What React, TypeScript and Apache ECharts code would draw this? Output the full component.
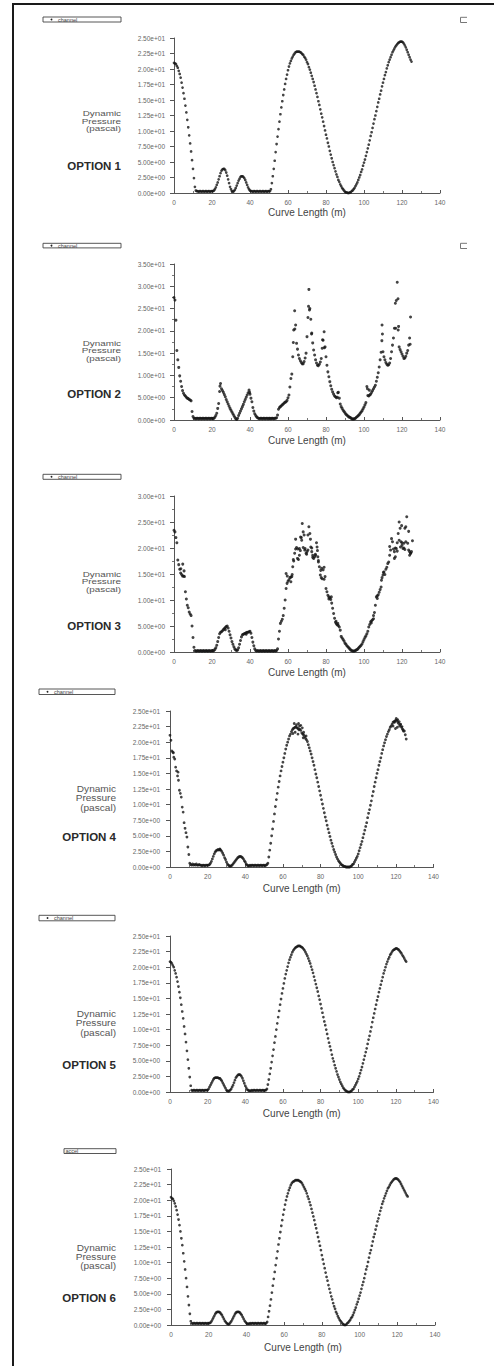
import React, { useEffect, useRef } from "react";
import * as echarts from "echarts";

// sampling step of the curve length (m) for the value arrays below
const X_STEP = 0.5;

const X_TICKS = { min: 0, max: 140, interval: 20 };

const option1 = [
  21.0, 20.9, 20.8, 20.5, 20.2, 19.7, 19.2, 18.6, 17.8, 17.0, 16.1, 15.2, 14.1, 13.0, 11.8, 10.6, 9.3, 8.0, 6.7, 5.3, 3.9, 2.4, 1.0,
  0.4, 0.3, 0.3, 0.2, 0.3, 0.3, 0.2, 0.3, 0.3, 0.2, 0.3, 0.3, 0.2, 0.3, 0.3, 0.2, 0.3, 0.3,
  0.3, 0.4, 0.6, 0.9, 1.3, 1.7, 2.2, 2.7, 3.2, 3.6, 3.8, 3.9, 3.9, 3.7, 3.3, 2.8, 2.2, 1.6, 1.0, 0.6, 0.3, 0.2,
  0.3, 0.5, 0.8, 1.2, 1.6, 2.0, 2.3, 2.6, 2.7, 2.7, 2.6, 2.4, 2.1, 1.7, 1.3, 0.9, 0.6, 0.4, 0.3,
  0.3, 0.2, 0.3, 0.3, 0.2, 0.3, 0.3, 0.2, 0.3, 0.3, 0.2, 0.3, 0.3, 0.2, 0.3, 0.3, 0.2, 0.3, 0.3, 0.3,
  0.6, 1.6, 2.7, 3.9, 5.2, 6.6, 7.9, 9.1, 10.3, 11.5, 12.7, 13.8, 14.8, 15.8, 16.7, 17.6, 18.4, 19.1, 19.8, 20.4, 20.9, 21.3, 21.7, 22.0, 22.3, 22.5, 22.7, 22.8, 22.8, 22.8,
  22.8, 22.7, 22.6, 22.4, 22.3, 22.0, 21.8, 21.5, 21.1, 20.8, 20.3, 19.9, 19.4, 18.9, 18.4, 17.9, 17.3, 16.7, 16.1, 15.5,
  14.8, 14.2, 13.5, 12.8, 12.2, 11.5, 10.8, 10.1, 9.4, 8.8, 8.1, 7.5, 6.8, 6.2, 5.6, 5.0, 4.5, 4.0, 3.5, 3.0,
  2.6, 2.1, 1.8, 1.4, 1.1, 0.8, 0.6, 0.4, 0.2, 0.1, 0.1, 0.0,
  0.0, 0.1, 0.1, 0.3, 0.4, 0.6, 0.8, 1.1, 1.4, 1.7, 2.1, 2.5, 2.9, 3.4, 3.8, 4.4, 4.9, 5.4, 6.0, 6.6,
  7.2, 7.8, 8.5, 9.2, 9.8, 10.5, 11.2, 11.9, 12.5, 13.2, 13.9, 14.6, 15.2, 15.9, 16.5, 17.2, 17.8, 18.4, 19.0, 19.5,
  20.1, 20.6, 21.1, 21.5, 21.9, 22.3, 22.7, 23.0, 23.3, 23.6, 23.8, 24.0, 24.2, 24.3, 24.4, 24.4, 24.4, 24.3, 24.1, 23.8,
  23.5, 23.1, 22.7, 22.3, 21.9, 21.5, 21.2,
];
const option1Extra: number[][] = [];

const option2 = [
  27.5, 26.9, 22.4, 15.6, 13.5, 11.8, 9.9, 8.7, 7.5, 6.6, 6.0, 5.6, 5.4, 5.1, 4.9, 4.8, 4.6, 4.5, 4.3, 1.9, 0.8,
  0.4, 0.4, 0.3, 0.4, 0.4, 0.3, 0.4, 0.4, 0.3, 0.4, 0.4, 0.3, 0.4, 0.4, 0.3, 0.4, 0.4, 0.3, 0.4, 0.4, 0.3, 0.4, 0.6,
  1.0, 1.5, 2.6, 3.7, 6.4, 8.2,
  7.0, 6.6, 6.2, 5.7, 5.2, 4.6, 4.1, 3.6, 3.1, 2.6, 2.2, 1.8, 1.4, 1.0, 0.6, 0.3, 0.1,
  0.4, 1.0, 1.5, 2.0, 2.5, 3.0, 3.5, 4.1, 4.6, 5.1, 5.6, 6.1, 6.7, 5.8,
  4.9, 4.1, 2.8, 2.0, 1.4, 1.0, 0.7, 0.5,
  0.4, 0.3, 0.4, 0.4, 0.3, 0.4, 0.4, 0.3, 0.4, 0.4, 0.3, 0.4, 0.4, 0.3, 0.4, 0.4, 0.3, 0.4, 0.4, 0.5,
  1.1, 2.4, 2.8, 3.0, 3.2, 3.4, 3.6, 3.8, 4.0, 4.1, 4.4, 5.0, 5.6, 7.4, 9.3, 10.3,
  14.2, 20.2, 24.5, 21.3, 17.2, 15.9, 14.6, 13.8,
  13.3, 12.9, 12.6, 12.6, 13.1, 13.9,
  15.0, 18.7, 23.0, 29.3, 25.0, 22.6, 19.5, 17.3,
  15.7, 14.6, 13.5, 12.8, 12.3, 12.2, 12.5, 13.0,
  13.8, 16.1, 17.9, 19.8, 16.4, 14.2,
  12.3, 10.8, 9.7, 8.6, 7.7, 6.9, 6.3, 5.8, 5.4, 5.2, 5.0, 5.1,
  6.2, 4.9, 3.6, 3.0, 2.6, 2.2, 1.9, 1.6, 1.3, 1.1, 0.9, 0.7, 0.6, 0.5, 0.3, 0.2, 0.2, 0.3, 0.4, 0.6, 0.8, 1.0, 1.2, 1.5, 1.8, 2.1, 2.5, 2.9,
  3.4, 3.9, 7.5,
  5.5, 5.4, 5.6, 5.8, 6.2, 6.6, 7.0, 7.4, 7.8, 8.7, 9.6, 10.6, 11.9,
  13.5, 15.2, 21.3, 15.3,
  14.2, 13.5, 12.9, 12.5, 12.3, 12.4, 12.8, 13.8, 15.3, 16.8, 18.4, 20.6,
  26.2, 26.8, 30.9, 20.2,
  16.4, 15.8, 15.3, 14.8, 14.3, 13.8, 13.9, 14.3, 15.0, 15.6, 16.8, 18.4, 23.1,
];
const option2Extra = [
  [24.2, 7.6], [39.8, 6.2], [62.8, 17.4], [63.6, 20.4], [70.8, 25.5], [71.3, 24.7], [72.4, 19.3],
  [78.2, 18.0], [79.1, 16.2], [86.2, 6.1], [101.8, 7.0], [102.8, 6.7], [109.4, 17.8], [109.7, 19.3],
  [116.7, 20.6], [117.9, 27.2], [118.2, 21.0], [124.3, 17.0],
];

const option3 = [
  23.4, 23.1, 22.0, 21.0, 17.7, 16.8, 15.9, 15.2, 14.9, 14.6, 14.6, 14.5, 11.6, 10.2, 9.0, 8.5, 7.7, 7.3, 7.0, 5.0, 2.8, 0.9,
  0.3, 0.2, 0.2, 0.3, 0.2, 0.2, 0.3, 0.2, 0.2, 0.3, 0.2, 0.2, 0.3, 0.2, 0.2, 0.3, 0.2, 0.2, 0.3, 0.2, 0.3, 0.5,
  0.8, 1.3, 2.0, 2.8, 3.5, 3.8, 3.9, 4.1, 4.3, 4.5, 4.7, 4.9, 5.0, 4.6, 4.0, 3.3, 2.7, 2.0, 1.5, 1.0, 0.6, 0.4, 0.3,
  0.4, 0.8, 1.5, 2.2, 2.9, 3.3, 3.4, 3.5, 3.6, 3.7, 3.8, 3.8, 3.9, 4.0, 3.6, 2.8, 1.9, 1.2, 0.6, 0.3,
  0.2, 0.3, 0.2, 0.2, 0.3, 0.2, 0.2, 0.3, 0.2, 0.2, 0.3, 0.2, 0.2, 0.3, 0.2, 0.2, 0.3, 0.2, 0.2, 0.3, 0.2, 0.3,
  0.6, 2.5, 4.0, 5.5, 5.9, 6.3, 7.0, 8.4, 10.0, 12.2, 13.2, 13.6, 13.9, 14.3, 14.4, 14.5, 16.4, 17.5,
  19.0, 19.8, 20.1, 18.0, 17.8, 18.6, 19.5, 22.0, 24.7, 23.1, 22.5, 19.9, 19.0, 19.3, 19.6, 24.1, 22.8, 20.2, 19.3, 18.6,
  18.0, 18.3, 18.6, 21.0, 19.5, 17.6, 16.4, 14.8, 14.3, 14.1, 15.8, 16.3, 14.5, 12.2,
  11.6, 10.9, 10.6, 10.4, 10.1, 9.4, 8.4, 7.4, 6.5, 5.7, 5.4, 5.2, 5.1, 4.8, 4.2, 3.0, 2.7, 2.4, 2.1, 1.7,
  1.5, 1.2, 1.0, 0.8, 0.6, 0.4, 0.3, 0.2, 0.2, 0.2,
  0.3, 0.4, 0.5, 0.7, 0.9, 1.1, 1.3, 1.6, 2.0, 2.4, 2.8, 3.1, 3.5, 4.0, 4.8, 5.3, 5.8, 6.0, 6.2, 7.0,
  7.6, 9.0, 10.6, 10.8, 11.0, 11.5, 12.0, 12.5, 14.3, 14.8,
  15.4, 14.9, 15.9, 16.3, 17.0, 17.3, 18.6, 19.6, 21.8, 21.2, 19.8, 19.3, 18.3, 19.9, 21.0, 22.8, 25.0, 23.8, 21.2, 20.5,
  19.9, 20.9, 23.8, 24.1, 26.0, 20.9, 19.6, 19.3, 19.0, 19.3, 21.4,
];
const option3Extra = [
  [3.6, 16.0], [4.6, 16.9], [5.3, 15.6], [27.0, 4.3], [38.0, 3.4], [59.0, 15.1], [59.6, 14.6], [61.5, 13.5],
  [62.2, 14.9], [62.8, 17.8], [64.0, 21.7], [65.2, 19.8], [66.0, 19.9], [66.6, 22.1], [67.2, 21.5], [68.0, 20.1],
  [68.8, 19.6], [69.8, 18.8], [70.5, 22.5], [71.8, 21.7], [72.5, 20.0], [73.0, 18.2], [74.4, 18.8], [75.3, 20.2],
  [75.7, 18.3], [76.0, 17.3], [77.2, 15.7], [77.7, 16.1], [79.0, 14.0], [81.5, 10.2], [82.8, 10.6], [85.3, 5.9],
  [86.2, 5.5], [103.8, 5.6], [105.0, 6.4], [107.0, 10.3], [109.2, 13.8], [110.2, 15.3], [113.5, 20.3], [116.0, 18.0],
  [116.5, 20.0], [117.5, 19.4], [118.5, 21.5], [119.2, 20.2], [119.8, 24.3], [120.0, 21.0], [121.0, 20.0],
  [121.5, 19.7], [122.0, 21.2], [123.5, 23.2], [124.0, 18.6], [124.6, 19.0],
];

const option4 = [
  21.1, 20.3, 18.6, 18.4, 17.6, 17.3, 16.0, 15.4, 14.6, 13.9, 12.3, 11.8, 11.2, 9.6, 8.8, 7.1, 6.2, 5.5, 4.8, 3.2, 2.0, 0.6,
  0.4, 0.3, 0.5, 0.3, 0.4, 0.3, 0.5, 0.3, 0.3, 0.4, 0.3, 0.3, 0.2, 0.3, 0.3, 0.2, 0.3, 0.3, 0.3, 0.3,
  0.4, 0.6, 0.9, 1.3, 1.7, 2.1, 2.4, 2.6, 2.7, 2.8, 2.7, 2.8, 2.7, 2.5, 2.2, 1.9, 1.5, 1.2, 0.8, 0.5, 0.3, 0.2, 0.1,
  0.2, 0.3, 0.5, 0.7, 0.9, 1.1, 1.3, 1.5, 1.6, 1.7, 1.7, 1.6, 1.5, 1.3, 1.0, 0.8, 0.5, 0.3, 0.2, 0.2,
  0.3, 0.2, 0.3, 0.3, 0.2, 0.3, 0.3, 0.2, 0.3, 0.3, 0.2, 0.3, 0.3, 0.2, 0.3, 0.3, 0.2, 0.3, 0.4,
  0.6, 1.6, 2.7, 3.8, 5.0, 6.1, 7.3, 8.5, 9.7, 10.8, 11.8, 12.8, 13.7, 14.6, 15.4, 16.1, 16.8, 17.5, 18.2, 18.9,
  19.5, 20.0, 20.5, 21.0, 21.3, 21.7, 22.0, 22.2, 22.3, 22.4,
  22.5, 22.3, 22.2, 22.0, 22.1, 21.9, 21.5, 21.3, 21.2, 20.9, 20.6, 20.4, 20.1, 19.6, 19.1, 18.6, 18.1, 17.5, 16.9, 16.3,
  15.6, 14.9, 14.3, 13.6, 12.9, 12.2, 11.5, 10.8, 10.1, 9.4, 8.7, 8.0, 7.4, 6.7, 6.1, 5.5, 4.9, 4.3, 3.8, 3.3,
  2.8, 2.4, 2.0, 1.6, 1.3, 1.0, 0.8, 0.6, 0.4, 0.3, 0.2, 0.1, 0.1, 0.0, 0.0,
  0.0, 0.0, 0.0, 0.1, 0.2, 0.4, 0.5, 0.8, 1.1, 1.4, 1.7, 2.1, 2.6, 3.1, 3.6, 4.1, 4.7, 5.3, 5.9, 6.5,
  7.1, 7.9, 8.6, 9.2, 9.9, 10.6, 11.4, 12.1, 12.9, 13.6, 14.3, 15.0, 15.6, 16.3, 16.9, 17.5, 18.2, 18.8, 19.4, 19.9,
  20.4, 20.9, 21.3, 21.7, 22.0, 22.4, 22.6, 22.9, 23.2, 23.3, 23.4, 23.5, 23.5,
  23.2, 23.0, 22.6, 22.9, 22.4, 22.1, 21.8, 21.8, 21.2, 20.5,
];
const option4Extra = [
  [1.8, 18.3], [4.3, 15.2], [26.5, 2.9], [65.3, 21.4], [66.0, 23.0], [66.5, 21.6], [67.2, 22.8], [68.0, 21.3],
  [68.3, 23.0], [68.8, 22.6], [69.5, 22.7], [70.3, 22.3], [70.8, 20.7], [71.0, 21.6], [72.3, 21.0],
  [118.5, 22.6], [119.3, 23.2], [119.8, 22.2], [120.2, 23.8], [120.8, 22.4], [121.0, 23.6], [121.8, 23.3],
  [122.5, 22.8], [123.3, 22.5], [123.8, 22.0],
];

const option5 = [
  20.9, 20.8, 20.6, 20.3, 20.0, 19.5, 19.0, 18.4, 17.7, 16.9, 16.0, 15.1, 14.0, 12.9, 11.8, 10.5, 9.3, 8.0, 6.6, 5.2, 3.8, 2.4, 1.0,
  0.3, 0.2, 0.3, 0.3, 0.2, 0.3, 0.3, 0.2, 0.3, 0.3, 0.2, 0.3, 0.3, 0.2, 0.3, 0.3, 0.3,
  0.3, 0.5, 0.8, 1.1, 1.4, 1.7, 2.0, 2.2, 2.3, 2.3, 2.3, 2.3, 2.2, 2.2, 2.0, 1.8, 1.5, 1.2, 0.9, 0.6, 0.3, 0.2, 0.1,
  0.2, 0.3, 0.5, 0.8, 1.1, 1.5, 1.9, 2.3, 2.5, 2.7, 2.8, 2.8, 2.7, 2.5, 2.2, 1.8, 1.4, 1.0, 0.7, 0.4, 0.3, 0.2, 0.2, 0.2,
  0.3, 0.2, 0.3, 0.3, 0.2, 0.3, 0.3, 0.2, 0.3, 0.3, 0.2, 0.3, 0.3, 0.2, 0.3, 0.3,
  0.5, 1.2, 2.0, 2.9, 3.8, 4.8, 5.8, 6.8, 7.9, 8.9, 10.0, 11.0, 12.0, 13.0, 14.0, 14.9, 15.8, 16.6, 17.4, 18.2,
  18.9, 19.5, 20.1, 20.7, 21.2, 21.6, 22.0, 22.4, 22.7, 22.9, 23.1, 23.2, 23.3, 23.4, 23.4,
  23.4, 23.3, 23.2, 23.1, 22.9, 22.7, 22.4, 22.1, 21.8, 21.4, 21.0, 20.6, 20.1, 19.6, 19.1, 18.5, 17.9, 17.3, 16.7, 16.1,
  15.4, 14.8, 14.1, 13.4, 12.7, 12.0, 11.3, 10.7, 10.0, 9.3, 8.6, 7.9, 7.3, 6.7, 6.0, 5.4, 4.9, 4.3, 3.8, 3.3,
  2.8, 2.4, 2.0, 1.6, 1.3, 1.0, 0.7, 0.5, 0.3, 0.2, 0.1, 0.0, 0.0,
  0.0, 0.1, 0.2, 0.4, 0.5, 0.8, 1.1, 1.4, 1.7, 2.1, 2.5, 3.0, 3.5, 4.0, 4.6, 5.2, 5.8, 6.4, 7.0, 7.7,
  8.4, 9.0, 9.7, 10.4, 11.2, 11.9, 12.6, 13.3, 14.0, 14.7, 15.3, 16.0, 16.6, 17.2, 17.8, 18.4, 19.0, 19.5, 20.0, 20.5,
  20.9, 21.3, 21.6, 22.0, 22.2, 22.5, 22.7, 22.8, 22.9, 23.0, 23.0,
  22.9, 22.8, 22.6, 22.4, 22.2, 21.9, 21.7, 21.4, 21.1, 20.9,
];
const option5Extra: number[][] = [];

const option6 = [
  20.5, 20.3, 20.2, 19.9, 19.5, 19.0, 18.4, 17.7, 16.9, 16.0, 15.0, 13.9, 12.8, 11.5, 10.2, 8.9, 7.5, 6.1, 4.6, 3.2, 1.8, 0.6,
  0.3, 0.2, 0.3, 0.3, 0.2, 0.3, 0.3, 0.2, 0.3, 0.3, 0.2, 0.3, 0.3, 0.2, 0.3, 0.3, 0.2, 0.3, 0.3, 0.3,
  0.4, 0.6, 0.9, 1.2, 1.5, 1.8, 2.0, 2.1, 2.1, 2.1, 2.0, 1.8, 1.6, 1.3, 1.0, 0.7, 0.5, 0.3, 0.2, 0.1,
  0.2, 0.4, 0.6, 0.9, 1.2, 1.5, 1.8, 2.0, 2.1, 2.1, 2.1, 2.0, 1.8, 1.6, 1.3, 1.0, 0.7, 0.5, 0.3, 0.2, 0.2, 0.2,
  0.3, 0.2, 0.3, 0.3, 0.2, 0.3, 0.3, 0.2, 0.3, 0.3, 0.2, 0.3, 0.3, 0.2, 0.3, 0.3, 0.2, 0.3,
  0.5, 1.3, 2.2, 3.1, 4.1, 5.2, 6.3, 7.4, 8.5, 9.6, 10.7, 11.8, 12.9, 13.9, 14.9, 15.9, 16.8, 17.7, 18.5, 19.3,
  20.0, 20.6, 21.1, 21.6, 22.0, 22.4, 22.7, 22.9, 23.0, 23.1, 23.2, 23.2, 23.2,
  23.2, 23.1, 23.0, 22.9, 22.7, 22.4, 22.1, 21.8, 21.5, 21.1, 20.6, 20.2, 19.7, 19.2, 18.6, 18.0, 17.4, 16.8, 16.1, 15.5,
  14.8, 14.1, 13.4, 12.7, 12.0, 11.2, 10.5, 9.8, 9.1, 8.4, 7.7, 7.1, 6.4, 5.8, 5.2, 4.6, 4.1, 3.5, 3.0, 2.6,
  2.1, 1.8, 1.4, 1.1, 0.8, 0.6, 0.4, 0.2, 0.1, 0.0, 0.0,
  0.1, 0.3, 0.4, 0.6, 0.8, 1.1, 1.3, 1.6, 2.0, 2.4, 2.8, 3.3, 3.7, 4.2, 4.7, 5.2, 5.8, 6.4, 6.9, 7.5,
  8.2, 8.9, 9.4, 10.1, 10.8, 11.5, 12.0, 12.7, 13.4, 14.1, 14.6, 15.3, 15.9, 16.6, 17.1, 17.7, 18.3, 18.8, 19.4, 19.8,
  20.3, 20.7, 21.1, 21.5, 21.9, 22.1, 22.4, 22.7, 22.9, 23.1, 23.3, 23.4, 23.5, 23.5,
  23.4, 23.3, 23.1, 22.9, 22.6, 22.3, 22.0, 21.7, 21.4, 21.1, 20.8, 20.6,
];
const option6Extra: number[][] = [];

const optionNames = ["OPTION 1", "OPTION 2", "OPTION 3", "OPTION 4", "OPTION 5", "OPTION 6"];
const legendTexts = ["channel", "channel", "channel", "channel", "channel", "accel"];
const yMaxes = [25, 35, 30, 25, 25, 25];
const yIntervals = [2.5, 5, 5, 2.5, 2.5, 2.5];
const yLabelLines = ["Dynamic", "Pressure", "(pascal)"];
const xName = "Curve Length (m)";

const seriesValues = [option1, option2, option3, option4, option5, option6];
const seriesExtras = [option1Extra, option2Extra, option3Extra, option4Extra, option5Extra, option6Extra];

// layout (page pixels)
const layout = [
  { grid: { left: 174, top: 38, width: 266, height: 155 }, minor: false, size: 2.7, nameGap: 14.5, yMargin: 9,
    lines: [113.8, 121.3, 128.8], fs: 7.3, sx: 1.35, textRight: 121, optY: 166, legend: { x: 43, y: 17, w: 78, h: 5 }, square: 17.3, dot: true },
  { grid: { left: 174, top: 264, width: 266, height: 156 }, minor: true, size: 3, nameGap: 15, yMargin: 9,
    lines: [343.3, 350.8, 358.3], fs: 7.3, sx: 1.35, textRight: 121, optY: 393.5, legend: { x: 43, y: 243.3, w: 78, h: 4.6 }, square: 243.3, dot: true },
  { grid: { left: 174, top: 496, width: 266, height: 156 }, minor: true, size: 3, nameGap: 15, yMargin: 9,
    lines: [574.3, 581.8, 589.3], fs: 7.3, sx: 1.35, textRight: 121, optY: 625.7, legend: { x: 43, y: 474.3, w: 78, h: 5 }, square: null, dot: true },
  { grid: { left: 170, top: 711, width: 263.5, height: 156 }, minor: false, size: 2.8, nameGap: 16.5, yMargin: 10,
    lines: [789, 798.2, 807.4], fs: 9, sx: 1.12, textRight: 116, optY: 836.7, legend: { x: 39, y: 689, w: 76, h: 5.5 }, square: null, dot: true },
  { grid: { left: 170, top: 936, width: 263.5, height: 156 }, minor: false, size: 2.7, nameGap: 16.5, yMargin: 10,
    lines: [1013.3, 1023, 1032.7], fs: 9, sx: 1.12, textRight: 116, optY: 1065, legend: { x: 39, y: 915.3, w: 76, h: 5.5 }, square: null, dot: true },
  { grid: { left: 171, top: 1169, width: 264, height: 156 }, minor: false, size: 2.7, nameGap: 17, yMargin: 10,
    lines: [1247.3, 1256.7, 1266], fs: 9, sx: 1.12, textRight: 116, optY: 1297.7, legend: { x: 64, y: 1148.7, w: 52, h: 4.8 }, square: null, dot: false },
];

const FONT = '"Liberation Sans", Arial, Helvetica, sans-serif';

function sci(v: number): string {
  if (v === 0) return "0.00e+00";
  const [m, e] = v.toExponential(2).split("e");
  const n = parseInt(e, 10);
  return m + "e" + (n < 0 ? "-" : "+") + String(Math.abs(n)).padStart(2, "0");
}

function buildOption() {
  const grids: any[] = [];
  const xAxes: any[] = [];
  const yAxes: any[] = [];
  const series: any[] = [];
  const graphics: any[] = [];

  // outer frame (left and top edges)
  graphics.push({ type: "line", shape: { x1: 13, y1: 4, x2: 494, y2: 4 }, style: { stroke: "#1a1a1a", lineWidth: 2 } });
  graphics.push({ type: "line", shape: { x1: 13, y1: 3, x2: 13, y2: 1366 }, style: { stroke: "#1a1a1a", lineWidth: 2 } });

  layout.forEach((L, i) => {
    grids.push({ ...L.grid, containLabel: false });
    xAxes.push({
      type: "value", gridIndex: i, min: X_TICKS.min, max: X_TICKS.max, interval: X_TICKS.interval,
      name: xName, nameLocation: "middle", nameGap: L.nameGap,
      nameTextStyle: { fontFamily: FONT, fontSize: 10, color: "#444" },
      axisLine: { onZero: false, lineStyle: { color: "#555", width: 1 } },
      axisTick: { show: true, inside: true, length: 3, lineStyle: { color: "#555" } },
      minorTick: { show: true, splitNumber: 2, length: 2, lineStyle: { color: "#777" } },
      axisLabel: { fontFamily: FONT, fontSize: 6.5, color: "#666", margin: 6 },
      splitLine: { show: false },
    });
    yAxes.push({
      type: "value", gridIndex: i, min: 0, max: yMaxes[i], interval: yIntervals[i],
      axisLine: { show: true, onZero: false, lineStyle: { color: "#555", width: 1 } },
      axisTick: { show: true, inside: false, length: 4, lineStyle: { color: "#555" } },
      minorTick: { show: L.minor, splitNumber: 2, length: 2, lineStyle: { color: "#777" } },
      axisLabel: { fontFamily: FONT, fontSize: 6.5, color: "#666", margin: L.yMargin, formatter: sci },
      splitLine: { show: false },
    });
    const pts = seriesValues[i].map((y, k) => [k * X_STEP, y]).concat(seriesExtras[i]);
    series.push({
      type: "scatter", xAxisIndex: i, yAxisIndex: i, data: pts,
      symbol: "circle", symbolSize: L.size, itemStyle: { color: "#151515" }, silent: true,
    });

    // y-axis title lines (small font stretched horizontally so the tight lines don't collide)
    yLabelLines.forEach((t, j) => {
      graphics.push({
        type: "text", x: L.textRight, y: L.lines[j], scaleX: L.sx,
        style: {
          text: t, font: `${L.fs}px ${FONT}`, fill: "#555",
          textAlign: "right", textVerticalAlign: "middle", align: "right", verticalAlign: "middle",
        },
      });
    });
    // option title
    graphics.push({
      type: "text", x: L.textRight, y: L.optY,
      style: { text: optionNames[i], font: `bold 11.5px ${FONT}`, fill: "#2a2a2a", textAlign: "right", textVerticalAlign: "middle", align: "right", verticalAlign: "middle" },
    });
    // legend box
    const lg = L.legend;
    graphics.push({ type: "rect", shape: { x: lg.x, y: lg.y, width: lg.w, height: lg.h }, style: { fill: "#fff", stroke: "#444", lineWidth: 0.9 } });
    if (L.dot) {
      graphics.push({ type: "circle", shape: { cx: lg.x + 8.5, cy: lg.y + lg.h / 2, r: 0.9 }, style: { fill: "#222" } });
    }
    graphics.push({
      type: "text", x: L.dot ? lg.x + 15 : lg.x + 1.5, y: lg.y + lg.h / 2,
      style: { text: legendTexts[i], font: `5.5px ${FONT}`, fill: "#444", textAlign: "left", textVerticalAlign: "middle", align: "left", verticalAlign: "middle" },
    });
    if (L.square !== null) {
      const sy = L.square as number;
      graphics.push({
        type: "polyline",
        shape: { points: [[467, sy], [460.5, sy], [460.5, sy + 5.2], [467, sy + 5.2]] },
        style: { stroke: "#777", lineWidth: 1, fill: null },
      });
    }
  });

  return {
    animation: false,
    backgroundColor: "#ffffff",
    grid: grids,
    xAxis: xAxes,
    yAxis: yAxes,
    series,
    graphic: { elements: graphics },
  };
}

export default function App() {
  const ref = useRef<HTMLDivElement>(null);
  useEffect(() => {
    if (!ref.current) return;
    const chart = echarts.init(ref.current, undefined, { renderer: "svg" });
    chart.setOption(buildOption() as any);
    return () => chart.dispose();
  }, []);
  return (
    <div
      ref={ref}
      style={{ position: "absolute", left: 0, top: 0, width: 494, height: 1366, background: "#fff" }}
    />
  );
}
